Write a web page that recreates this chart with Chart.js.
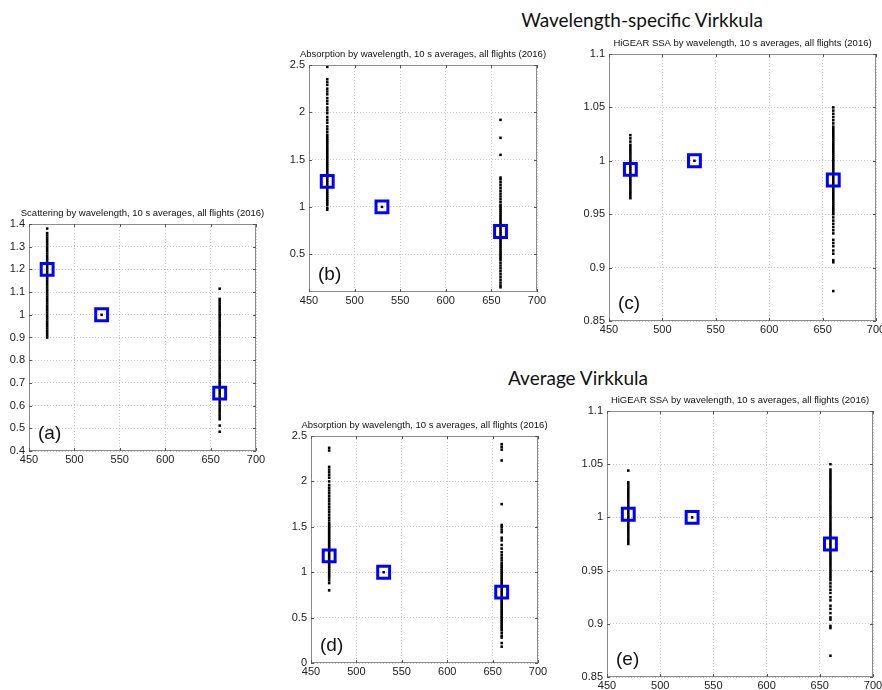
<!DOCTYPE html>
<html>
<head>
<meta charset="utf-8">
<script src="https://cdn.jsdelivr.net/npm/chart.js@4.4.1/dist/chart.umd.min.js"></script>
<style>
  html, body { margin: 0; padding: 0; background: #fff; overflow: hidden; }
  body { width: 882px; height: 690px; position: relative; }
  canvas { position: absolute; }
  .head { position: absolute; font-family: Lato, "Noto Sans", sans-serif; font-size: 19px; color: #111; white-space: nowrap; transform: translateX(-50%); line-height: 24px; }
</style>
</head>
<body>
<div class="head" style="left:642px; top:8px;">Wavelength-specific Virkkula</div>
<div class="head" style="left:578px; top:366px;">Average Virkkula</div>

<canvas id="pa"></canvas>
<canvas id="pb"></canvas>
<canvas id="pc"></canvas>
<canvas id="pd"></canvas>
<canvas id="pe"></canvas>

<script>
// wavelengths (nm) and axis ticks
const wavelengths = [470, 530, 660]
const xTicks = [450, 500, 550, 600, 650, 700]

// (a) scattering, wavelength-specific
const aTicks = [0.4, 0.5, 0.6, 0.7, 0.8, 0.9, 1, 1.1, 1.2, 1.3, 1.4]
const a470 = [1.38, 1.36, 1.35, 1.34, 1.33, 1.32, 1.31, 1.30, 1.29, 1.28, 1.27, 1.26, 1.25, 1.24, 1.23, 1.22, 1.21, 1.20, 1.19, 1.18, 1.17, 1.16, 1.15, 1.14, 1.13, 1.12, 1.11, 1.10, 1.09, 1.08, 1.07, 1.06, 1.05, 1.04, 1.03, 1.02, 1.01, 1.00, 0.99, 0.98, 0.97, 0.96, 0.95, 0.94, 0.93, 0.92, 0.91, 0.90]
const a530 = [1.0]
const a660 = [1.115, 1.07, 1.06, 1.05, 1.04, 1.03, 1.02, 1.01, 1.00, 0.99, 0.98, 0.97, 0.96, 0.95, 0.94, 0.93, 0.92, 0.91, 0.90, 0.89, 0.88, 0.87, 0.86, 0.85, 0.84, 0.83, 0.82, 0.81, 0.80, 0.79, 0.78, 0.77, 0.76, 0.75, 0.74, 0.73, 0.72, 0.71, 0.70, 0.69, 0.68, 0.67, 0.66, 0.65, 0.64, 0.63, 0.62, 0.61, 0.60, 0.59, 0.58, 0.57, 0.56, 0.55, 0.54, 0.512, 0.485]
const aMeans = [1.2, 1.0, 0.655]

// (b) absorption, wavelength-specific
const bTicks = [0.5, 1, 1.5, 2, 2.5]
const b470 = [2.48, 2.35, 2.32, 2.29, 2.25, 2.22, 2.19, 2.15, 2.12, 2.09, 2.05, 2.02, 1.99, 1.95, 1.92, 1.89, 1.85, 1.82, 1.79, 1.76, 1.74, 1.72, 1.70, 1.68, 1.66, 1.64, 1.62, 1.60, 1.58, 1.56, 1.54, 1.52, 1.50, 1.48, 1.46, 1.44, 1.42, 1.40, 1.38, 1.36, 1.34, 1.32, 1.30, 1.28, 1.26, 1.24, 1.22, 1.20, 1.18, 1.16, 1.14, 1.12, 1.10, 1.08, 1.06, 1.04, 1.02, 0.99, 0.97]
const b530 = [1.0]
const b660 = [1.92, 1.73, 1.55, 1.31, 1.29, 1.26, 1.23, 1.2, 1.17, 1.14, 1.11, 1.08, 1.05, 1.02, 1.0, 0.98, 0.96, 0.94, 0.92, 0.90, 0.88, 0.86, 0.84, 0.82, 0.80, 0.78, 0.76, 0.74, 0.72, 0.70, 0.68, 0.66, 0.64, 0.62, 0.60, 0.58, 0.56, 0.54, 0.52, 0.50, 0.48, 0.46, 0.44, 0.41, 0.38, 0.35, 0.32, 0.29, 0.26, 0.23, 0.20, 0.17, 0.15]
const bMeans = [1.27, 1.0, 0.74]

// (c) SSA, wavelength-specific
const cTicks = [0.85, 0.9, 0.95, 1, 1.05, 1.1]
const c470 = [1.024, 1.021, 1.018, 1.015, 1.013, 1.011, 1.009, 1.007, 1.005, 1.003, 1.001, 0.999, 0.997, 0.995, 0.993, 0.991, 0.989, 0.987, 0.985, 0.983, 0.981, 0.979, 0.977, 0.975, 0.973, 0.971, 0.969, 0.967, 0.965]
const c530 = [1.0]
const c660 = [1.05, 1.047, 1.044, 1.041, 1.038, 1.035, 1.032, 1.03, 1.028, 1.026, 1.024, 1.022, 1.02, 1.018, 1.016, 1.014, 1.012, 1.01, 1.008, 1.006, 1.004, 1.002, 1.0, 0.998, 0.996, 0.994, 0.992, 0.99, 0.988, 0.986, 0.984, 0.982, 0.98, 0.978, 0.976, 0.974, 0.972, 0.97, 0.968, 0.966, 0.964, 0.962, 0.96, 0.958, 0.956, 0.954, 0.952, 0.95, 0.947, 0.944, 0.941, 0.938, 0.935, 0.932, 0.926, 0.923, 0.92, 0.916, 0.913, 0.907, 0.905, 0.878]
const cMeans = [0.992, 1.0, 0.982]

// (d) absorption, average
const dTicks = [0, 0.5, 1, 1.5, 2, 2.5]
const d470 = [2.37, 2.34, 2.16, 2.13, 2.10, 2.07, 2.04, 2.0, 1.96, 1.93, 1.90, 1.87, 1.84, 1.81, 1.78, 1.75, 1.72, 1.69, 1.66, 1.63, 1.60, 1.57, 1.54, 1.52, 1.50, 1.48, 1.46, 1.44, 1.42, 1.40, 1.38, 1.36, 1.34, 1.32, 1.30, 1.28, 1.26, 1.24, 1.22, 1.20, 1.18, 1.16, 1.14, 1.12, 1.10, 1.08, 1.06, 1.04, 1.02, 1.0, 0.98, 0.96, 0.94, 0.91, 0.88, 0.80]
const d530 = [1.0]
const d660 = [2.41, 2.38, 2.35, 2.23, 1.75, 1.52, 1.50, 1.47, 1.44, 1.38, 1.35, 1.30, 1.26, 1.22, 1.19, 1.16, 1.13, 1.10, 1.08, 1.06, 1.04, 1.02, 1.0, 0.98, 0.96, 0.94, 0.92, 0.90, 0.88, 0.86, 0.84, 0.82, 0.80, 0.78, 0.76, 0.74, 0.72, 0.70, 0.68, 0.66, 0.64, 0.62, 0.60, 0.58, 0.56, 0.54, 0.52, 0.50, 0.48, 0.46, 0.44, 0.42, 0.40, 0.38, 0.36, 0.33, 0.30, 0.28, 0.22, 0.18]
const dMeans = [1.18, 1.0, 0.78]

// (e) SSA, average
const eTicks = [0.85, 0.9, 0.95, 1, 1.05, 1.1]
const e470 = [1.044, 1.033, 1.031, 1.029, 1.027, 1.025, 1.023, 1.021, 1.019, 1.017, 1.015, 1.013, 1.011, 1.009, 1.007, 1.005, 1.003, 1.001, 0.999, 0.997, 0.995, 0.993, 0.991, 0.989, 0.987, 0.985, 0.983, 0.981, 0.979, 0.977, 0.975]
const e530 = [1.0]
const e660 = [1.05, 1.045, 1.043, 1.041, 1.039, 1.037, 1.035, 1.033, 1.031, 1.029, 1.027, 1.025, 1.023, 1.021, 1.019, 1.017, 1.015, 1.013, 1.011, 1.009, 1.007, 1.005, 1.003, 1.001, 0.999, 0.997, 0.995, 0.993, 0.991, 0.989, 0.987, 0.985, 0.983, 0.981, 0.979, 0.977, 0.975, 0.973, 0.971, 0.969, 0.967, 0.965, 0.963, 0.961, 0.959, 0.957, 0.955, 0.953, 0.951, 0.949, 0.947, 0.945, 0.943, 0.941, 0.938, 0.935, 0.932, 0.929, 0.925, 0.922, 0.917, 0.914, 0.91, 0.906, 0.904, 0.898, 0.896, 0.87]
const eMeans = [1.003, 1.0, 0.975]

const absTitle = 'Absorption by wavelength, 10 s averages, all flights (2016)'
const ssaTitle = 'HiGEAR SSA by wavelength, 10 s averages, all flights (2016)'

// plot box (left, top, right, bottom) of each panel on the page
const panels = [
  { id: 'pa', tag: '(a)', title: 'Scattering by wavelength, 10 s averages, all flights (2016)', box: [29, 224, 256, 451], yMin: 0.4, yMax: 1.4, yTicks: aTicks, cols: [a470, a530, a660], means: aMeans },
  { id: 'pb', tag: '(b)', title: absTitle, box: [309, 65, 537, 292], yMin: 0.1, yMax: 2.5, yTicks: bTicks, cols: [b470, b530, b660], means: bMeans },
  { id: 'pc', tag: '(c)', title: ssaTitle, box: [609, 54, 876, 321], yMin: 0.85, yMax: 1.1, yTicks: cTicks, cols: [c470, c530, c660], means: cMeans },
  { id: 'pd', tag: '(d)', title: absTitle, box: [311, 436, 538, 663], yMin: 0, yMax: 2.5, yTicks: dTicks, cols: [d470, d530, d660], means: dMeans },
  { id: 'pe', tag: '(e)', title: ssaTitle, box: [607, 411, 873, 677], yMin: 0.85, yMax: 1.1, yTicks: eTicks, cols: [e470, e530, e660], means: eMeans }
]

const FONT = '"Liberation Sans", Arial, sans-serif'
const PAD_L = 34, PAD_T = 22, PAD_R = 24, X_H = 18, PAD_B = 2

// frame, inward ticks, title and panel tag, matlab style
const framePlugin = {
  id: 'frame',
  afterDraw (chart, args, opts) {
    const { ctx, chartArea: a, scales } = chart
    ctx.save()
    ctx.strokeStyle = '#8c8c8c'
    ctx.lineWidth = 1
    ctx.strokeRect(Math.round(a.left) + 0.5, Math.round(a.top) + 0.5, Math.round(a.right - a.left) - 1, Math.round(a.bottom - a.top) - 1)
    ctx.strokeStyle = '#555'
    ctx.beginPath()
    scales.x.ticks.forEach(t => {
      const px = Math.round(scales.x.getPixelForValue(t.value)) + 0.5
      ctx.moveTo(px, a.bottom); ctx.lineTo(px, a.bottom - 3)
      ctx.moveTo(px, a.top); ctx.lineTo(px, a.top + 3)
    })
    scales.y.ticks.forEach(t => {
      const py = Math.round(scales.y.getPixelForValue(t.value)) + 0.5
      ctx.moveTo(a.left, py); ctx.lineTo(a.left + 3, py)
      ctx.moveTo(a.right, py); ctx.lineTo(a.right - 3, py)
    })
    ctx.stroke()
    ctx.fillStyle = '#111'
    ctx.font = '9.5px ' + FONT
    ctx.textAlign = 'center'
    ctx.textBaseline = 'middle'
    ctx.fillText(opts.title, (a.left + a.right) / 2, a.top - 11)
    ctx.font = '19px ' + FONT
    ctx.textAlign = 'left'
    ctx.fillText(opts.tag, a.left + 9, a.bottom - 17)
    ctx.restore()
  }
}

const fmt = v => String(Math.round(v * 1000) / 1000)

panels.forEach(p => {
  const [L, T, R, B] = p.box
  const cv = document.getElementById(p.id)
  cv.width = (R - L) + PAD_L + PAD_R
  cv.height = (B - T) + PAD_T + X_H + PAD_B
  cv.style.left = (L - PAD_L) + 'px'
  cv.style.top = (T - PAD_T) + 'px'

  const dots = []
  p.cols.forEach((col, i) => col.forEach(v => dots.push({ x: wavelengths[i], y: v })))
  const meanPts = p.means.map((v, i) => ({ x: wavelengths[i], y: v }))

  new Chart(cv.getContext('2d'), {
    type: 'scatter',
    data: {
      datasets: [
        {
          label: 'mean',
          data: meanPts,
          pointStyle: 'rect',
          pointRadius: 8.4,
          borderWidth: 3,
          borderColor: '#0000ff',
          backgroundColor: 'rgba(0,0,0,0)'
        },
        {
          label: 'points',
          data: dots,
          pointStyle: 'rect',
          pointRadius: 1.8,
          borderWidth: 0,
          backgroundColor: '#000'
        }
      ]
    },
    options: {
      responsive: false,
      animation: false,
      events: [],
      layout: { padding: { left: 0, top: PAD_T, right: PAD_R, bottom: PAD_B } },
      plugins: {
        legend: { display: false },
        tooltip: { enabled: false },
        frame: { title: p.title, tag: p.tag }
      },
      scales: {
        x: {
          type: 'linear',
          min: 450,
          max: 700,
          afterBuildTicks: s => { s.ticks = xTicks.map(v => ({ value: v })) },
          afterFit: s => { s.height = X_H },
          grid: { color: '#c4c4c4', drawTicks: false },
          border: { display: false, dash: [1, 2] },
          ticks: { padding: 2, color: '#222', font: { family: FONT, size: 11 }, callback: fmt, maxRotation: 0 }
        },
        y: {
          type: 'linear',
          min: p.yMin,
          max: p.yMax,
          afterBuildTicks: s => { s.ticks = p.yTicks.map(v => ({ value: v })) },
          afterFit: s => { s.width = PAD_L },
          grid: { color: '#c4c4c4', drawTicks: false },
          border: { display: false, dash: [1, 2] },
          ticks: { padding: 4, color: '#222', font: { family: FONT, size: 11 }, callback: fmt, autoSkip: false }
        }
      }
    },
    plugins: [framePlugin]
  })
})
</script>
</body>
</html>
